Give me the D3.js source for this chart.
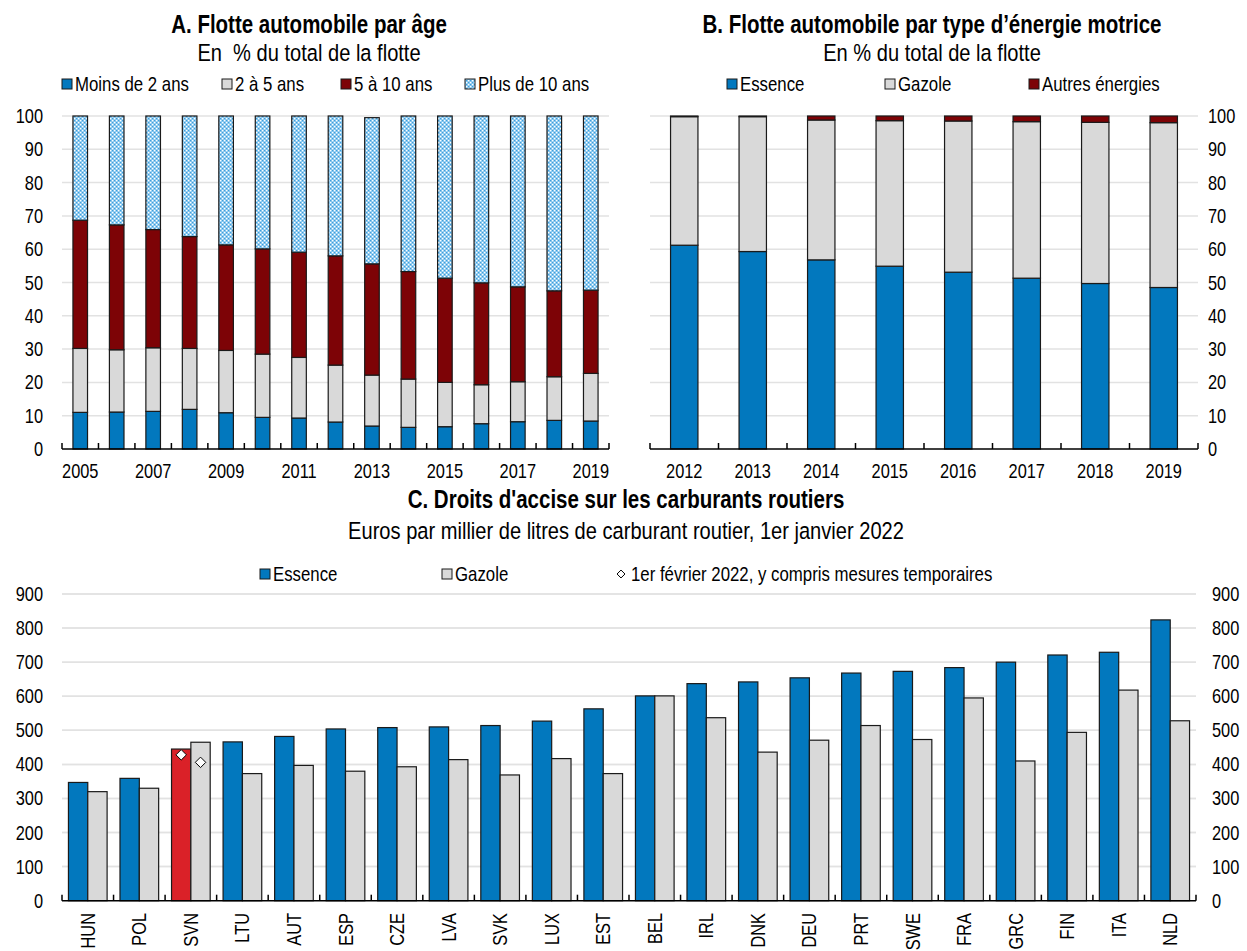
<!DOCTYPE html>
<html>
<head>
<meta charset="utf-8">
<script src="https://cdn.jsdelivr.net/npm/d3@7"></script>
<style>
  html, body { margin: 0; padding: 0; background: #fff; }
  svg { display: block; }
  text { font-family: "Liberation Sans", Arial, sans-serif; fill: #000; white-space: pre; }
</style>
</head>
<body>
<svg id="chart" width="1247" height="951"></svg>
<script>
// ---- Panel A: car fleet by age (% of total fleet) ----
const yearsA = ["2005","2006","2007","2008","2009","2010","2011","2012","2013","2014","2015","2016","2017","2018","2019"];
const ageUnder2 = [11.0, 11.1, 11.3, 11.9, 10.9, 9.5, 9.3, 8.1, 6.9, 6.5, 6.7, 7.6, 8.2, 8.6, 8.4];
const age2to5   = [19.2, 18.7, 19.1, 18.3, 18.7, 19.0, 18.2, 17.1, 15.3, 14.5, 13.3, 11.7, 12.0, 13.1, 14.3];
const age5to10  = [38.5, 37.5, 35.5, 33.6, 31.7, 31.6, 31.6, 32.8, 33.4, 32.3, 31.3, 30.6, 28.5, 25.8, 25.0];
const ageOver10 = [31.3, 32.7, 34.1, 36.2, 38.7, 39.9, 40.9, 42.0, 43.9, 46.7, 48.7, 50.1, 51.3, 52.5, 52.3];
const ageLabels = ["Moins de 2 ans", "2 à 5 ans", "5 à 10 ans", "Plus de 10 ans"];

// ---- Panel B: car fleet by fuel type (% of total fleet) ----
const yearsB = ["2012","2013","2014","2015","2016","2017","2018","2019"];
const fleetPetrol = [61.2, 59.3, 56.8, 54.9, 53.1, 51.3, 49.7, 48.5];
const fleetDiesel = [38.6, 40.5, 42.0, 43.7, 45.4, 47.0, 48.4, 49.5];
const fleetOther  = [0.2, 0.2, 1.2, 1.4, 1.5, 1.7, 1.9, 2.0];
const fuelLabels = ["Essence", "Gazole", "Autres énergies"];

// ---- Panel C: excise duties on road fuels (EUR per 1000 litres) ----
const countries = ["HUN","POL","SVN","LTU","AUT","ESP","CZE","LVA","SVK","LUX","EST","BEL","IRL","DNK","DEU","PRT","SWE","FRA","GRC","FIN","ITA","NLD"];
const excisePetrol = [347, 359, 445, 466, 482, 504, 508, 510, 514, 527, 563, 601, 637, 642, 654, 668, 673, 684, 700, 721, 729, 824];
const exciseDiesel = [320, 330, 465, 373, 397, 380, 393, 414, 369, 417, 373, 601, 537, 436, 471, 514, 473, 595, 410, 494, 618, 528];
const feb2022Countries = ["SVN"];
const feb2022Petrol = [428];
const feb2022Diesel = [406];
const highlightCountry = "SVN";
const exciseLabels = ["Essence", "Gazole", "1er février 2022, y compris mesures temporaires"];

// ---- styling ----
const BLUE = "#0278be", GREY = "#d9d9d9", MAROON = "#7d0306", RED = "#da2128";
const GRID = "#e2e2e2", EDGE = "#1a1a1a";
const NARROW = 0.82;          // horizontal squeeze giving a condensed face
const TICK_SIZE = 20, LEGEND_SIZE = 20.5, TITLE_SIZE = 25, SUB_SIZE = 24.5;

const svg = d3.select("#chart");
const defs = svg.append("defs");
const pat = defs.append("pattern").attr("id", "dots")
  .attr("patternUnits", "userSpaceOnUse").attr("width", 4).attr("height", 4);
pat.append("rect").attr("width", 4).attr("height", 4).attr("fill", "#86c6ee");
pat.append("rect").attr("x", 0).attr("y", 0).attr("width", 1.3).attr("height", 1.3).attr("fill", "#ffffff");
pat.append("rect").attr("x", 2).attr("y", 2).attr("width", 1.3).attr("height", 1.3).attr("fill", "#ffffff");
pat.append("rect").attr("x", 2).attr("y", 0).attr("width", 1).attr("height", 1).attr("fill", "#3f9ddb");
pat.append("rect").attr("x", 0).attr("y", 2).attr("width", 1).attr("height", 1).attr("fill", "#3f9ddb");

// condensed text helper: position via translate, squeeze horizontally
function label(parent, x, y, str, size, opts = {}) {
  const rot = opts.rotate ? ` rotate(${opts.rotate})` : "";
  return parent.append("text")
    .attr("transform", `translate(${x},${y})${rot} scale(${NARROW},1)`)
    .attr("dy", opts.dy || null)
    .attr("text-anchor", opts.anchor || "start")
    .attr("font-size", size)
    .attr("font-weight", opts.bold ? "bold" : null)
    .text(str);
}

function titleBlock(cx, y, title, subtitle, gap) {
  label(svg, cx, y, title, TITLE_SIZE, { anchor: "middle", bold: true });
  label(svg, cx, y + gap, subtitle, SUB_SIZE, { anchor: "middle" });
}

function legendSquare(x, y, fill, text) {
  svg.append("rect").attr("x", x).attr("y", y - 5).attr("width", 10).attr("height", 10)
    .attr("fill", fill).attr("stroke", EDGE).attr("stroke-width", 1);
  label(svg, x + 13, y, text, LEGEND_SIZE, { dy: "0.35em" });
}

function gridAndLabels(g, y, ticks, x0, x1, labelX, anchor) {
  g.append("g").selectAll("line").data(ticks.filter(t => t > 0)).join("line")
    .attr("x1", x0).attr("x2", x1).attr("y1", d => y(d)).attr("y2", d => y(d))
    .attr("stroke", GRID).attr("stroke-width", 1.5);
  ticks.forEach(t => label(g, labelX, y(t), String(t), TICK_SIZE, { anchor, dy: "0.35em" }));
}

function baseAxis(g, x, y0) {
  const [r0, r1] = x.range();
  const step = x.step();
  const n = x.domain().length;
  g.append("line").attr("x1", r0).attr("x2", r1).attr("y1", y0).attr("y2", y0)
    .attr("stroke", "#000").attr("stroke-width", 1.5);
  g.append("g").selectAll("line").data(d3.range(n + 1)).join("line")
    .attr("x1", i => r0 + i * step).attr("x2", i => r0 + i * step)
    .attr("y1", y0).attr("y2", y0 - 6).attr("stroke", "#000").attr("stroke-width", 1.5);
}

function stackedBars(g, x, y, rows, keys, fills) {
  const stack = d3.stack().keys(keys)(rows);
  const bw = x.bandwidth() * 0.4;
  stack.forEach((layer, k) => {
    g.append("g").selectAll("rect").data(layer).join("rect")
      .attr("x", d => x(d.data.year) + (x.bandwidth() - bw) / 2)
      .attr("width", bw)
      .attr("y", d => y(d[1]))
      .attr("height", d => y(d[0]) - y(d[1]))
      .attr("fill", fills[k]).attr("stroke", EDGE).attr("stroke-width", 1.2);
  });
}

// ===== Panel A =====
{
  const g = svg.append("g");
  const x = d3.scaleBand().domain(yearsA).range([62, 609]);
  const y = d3.scaleLinear().domain([0, 100]).range([449, 116]);
  gridAndLabels(g, y, d3.range(0, 101, 10), 62, 609, 43, "end");

  const rows = yearsA.map((yr, i) => ({ year: yr, a: ageUnder2[i], b: age2to5[i], c: age5to10[i], d: ageOver10[i] }));
  const fills = [BLUE, GREY, MAROON, "url(#dots)"];
  stackedBars(g, x, y, rows, ["a", "b", "c", "d"], fills);
  baseAxis(g, x, y(0));
  yearsA.filter((d, i) => i % 2 === 0)
    .forEach(d => label(g, x(d) + x.bandwidth() / 2, 478, d, TICK_SIZE, { anchor: "middle" }));

  titleBlock(309, 33, "A. Flotte automobile par âge", "En  % du total de la flotte", 28);
  const lx = [62, 222, 341, 465];
  ageLabels.forEach((lab, i) => legendSquare(lx[i], 84, fills[i], lab));
}

// ===== Panel B =====
{
  const g = svg.append("g");
  const x = d3.scaleBand().domain(yearsB).range([650, 1198]);
  const y = d3.scaleLinear().domain([0, 100]).range([449, 116]);
  gridAndLabels(g, y, d3.range(0, 101, 10), 650, 1198, 1208, "start");

  const rows = yearsB.map((yr, i) => ({ year: yr, a: fleetPetrol[i], b: fleetDiesel[i], c: fleetOther[i] }));
  const fills = [BLUE, GREY, MAROON];
  stackedBars(g, x, y, rows, ["a", "b", "c"], fills);
  baseAxis(g, x, y(0));
  yearsB.forEach(d => label(g, x(d) + x.bandwidth() / 2, 478, d, TICK_SIZE, { anchor: "middle" }));

  titleBlock(932, 33, "B. Flotte automobile par type d\u2019énergie motrice", "En % du total de la flotte", 28);
  const lx = [727, 885, 1029];
  fuelLabels.forEach((lab, i) => legendSquare(lx[i], 84, fills[i], lab));
}

// ===== Panel C =====
{
  const g = svg.append("g");
  const x = d3.scaleBand().domain(countries).range([62, 1196]);
  const inner = d3.scaleBand().domain(["petrol", "diesel"]).range([0, x.bandwidth() * 0.75]);
  const off = x.bandwidth() * 0.125;
  const y = d3.scaleLinear().domain([0, 900]).range([900.7, 594]);
  gridAndLabels(g, y, d3.range(0, 901, 100), 62, 1196, 43, "end");
  gridAndLabels(g, y, d3.range(0, 901, 100), 62, 1196, 1212, "start");

  const rows = countries.map((c, i) => ({ c, petrol: excisePetrol[i], diesel: exciseDiesel[i] }));
  g.append("g").selectAll("rect").data(rows).join("rect")
    .attr("x", d => x(d.c) + off + inner("petrol")).attr("width", inner.bandwidth())
    .attr("y", d => y(d.petrol)).attr("height", d => y(0) - y(d.petrol))
    .attr("fill", d => d.c === highlightCountry ? RED : BLUE)
    .attr("stroke", EDGE).attr("stroke-width", 1.2);
  g.append("g").selectAll("rect").data(rows).join("rect")
    .attr("x", d => x(d.c) + off + inner("diesel")).attr("width", inner.bandwidth())
    .attr("y", d => y(d.diesel)).attr("height", d => y(0) - y(d.diesel))
    .attr("fill", GREY).attr("stroke", EDGE).attr("stroke-width", 1.2);

  const diamond = d3.symbol().type(d3.symbolDiamond2).size(70);
  const marks = [];
  feb2022Countries.forEach((c, i) => {
    marks.push({ c, k: "petrol", v: feb2022Petrol[i] });
    marks.push({ c, k: "diesel", v: feb2022Diesel[i] });
  });
  g.append("g").selectAll("path").data(marks).join("path")
    .attr("d", diamond)
    .attr("transform", d => `translate(${x(d.c) + off + inner(d.k) + inner.bandwidth() / 2},${y(d.v)})`)
    .attr("fill", "#fff").attr("stroke", "#000").attr("stroke-width", 1);

  baseAxis(g, x, y(0));
  countries.forEach(c => label(g, x(c) + x.bandwidth() / 2, 913, c, TICK_SIZE,
    { anchor: "end", rotate: -90, dy: "0.35em" }));

  titleBlock(626, 508, "C. Droits d'accise sur les carburants routiers",
    "Euros par millier de litres de carburant routier, 1er janvier 2022", 31);
  legendSquare(260, 574, BLUE, exciseLabels[0]);
  legendSquare(442, 574, GREY, exciseLabels[1]);
  svg.append("path").attr("d", d3.symbol().type(d3.symbolDiamond2).size(40))
    .attr("transform", "translate(621,574)").attr("fill", "#fff").attr("stroke", "#000").attr("stroke-width", 1);
  label(svg, 631, 574, exciseLabels[2], LEGEND_SIZE, { dy: "0.35em" });
}
</script>
</body>
</html>
